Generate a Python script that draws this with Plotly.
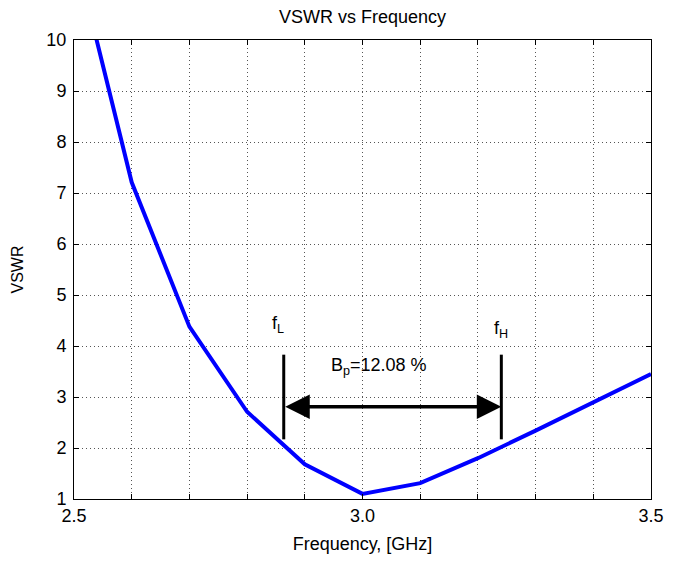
import numpy as np
import plotly.graph_objects as go

# data
freq = [2.5, 2.6, 2.7, 2.8, 2.9, 3.0, 3.1, 3.2, 3.3, 3.4, 3.5]
vswr = [11.8, 7.21, 4.38, 2.71, 1.68, 1.1, 1.31, 1.80, 2.34, 2.89, 3.45]

f_low = 2.8635
f_high = 3.2406
marker_bottom = 2.17
marker_top = 3.83
arrow_level = 2.81
bw_text = "B<sub>p</sub>=12.08 %"

x_ticks = [round(v, 1) for v in np.arange(2.5, 3.51, 0.1)]
x_ticklabels = ["2.5" if v == 2.5 else "3.0" if v == 3.0 else "3.5" if v == 3.5 else "" for v in x_ticks]
y_ticks = list(range(1, 11))

font = "Liberation Sans, Arial, sans-serif"
lab_size = 18

fig = go.Figure()
fig.add_trace(go.Scatter(x=freq, y=vswr, mode="lines",
                         line=dict(color="#0000ff", width=4), showlegend=False))

# fL / fH markers
for fx in (f_low, f_high):
    fig.add_trace(go.Scatter(x=[fx, fx], y=[marker_bottom, marker_top], mode="lines",
                             line=dict(color="black", width=3), showlegend=False,
                             hoverinfo="skip"))

# double headed arrow
fig.add_annotation(x=f_high, y=arrow_level, ax=f_low, ay=arrow_level,
                   xref="x", yref="y", axref="x", ayref="y", text="",
                   showarrow=True, arrowhead=2, startarrowhead=2, arrowside="end+start",
                   arrowsize=1.4, startarrowsize=1.4, arrowwidth=3.5, arrowcolor="black")

fig.add_annotation(x=f_low, y=4.15, text="f<sub>L</sub>", showarrow=False,
                   yanchor="bottom", xanchor="center", xshift=-6,
                   font=dict(family=font, size=lab_size, color="black"))
fig.add_annotation(x=f_high, y=4.05, text="f<sub>H</sub>", showarrow=False,
                   yanchor="bottom", xanchor="center",
                   font=dict(family=font, size=lab_size, color="black"))
fig.add_annotation(x=(f_low + f_high) / 2, y=3.33, text=bw_text, showarrow=False,
                   yanchor="bottom", xanchor="center", xshift=-14,
                   font=dict(family=font, size=lab_size, color="black"))

axis_common = dict(showline=True, linecolor="black", linewidth=1, mirror="allticks",
                   ticks="inside", ticklen=5, tickcolor="black",
                   showgrid=True, gridcolor="#555555", griddash="1px,3px", gridwidth=1,
                   zeroline=False, tickfont=dict(family=font, size=18, color="black"))

fig.update_xaxes(range=[2.5, 3.5], tickvals=x_ticks, ticktext=x_ticklabels,
                 title=dict(text="Frequency, [GHz]", font=dict(family=font, size=lab_size, color="black"),
                            standoff=12),
                 **axis_common)
fig.update_yaxes(range=[1, 10], tickvals=y_ticks, ticklabelstandoff=3,
                 title=dict(text="VSWR", font=dict(family=font, size=16, color="black"),
                            standoff=18),
                 **axis_common)

fig.update_layout(width=676, height=562,
                  margin=dict(l=74, r=15, t=40, b=60),
                  paper_bgcolor="white", plot_bgcolor="white",
                  title=dict(text="VSWR vs Frequency", x=0.5, xanchor="center",
                             xref="paper", y=1 - 17 / 562, yanchor="middle",
                             font=dict(family=font, size=lab_size, color="black")),
                  font=dict(family=font))

# drop the default page margin so the figure fills the window
fig.write_html("out.html", config={"displayModeBar": False},
               post_script="document.body.style.margin='0';")
